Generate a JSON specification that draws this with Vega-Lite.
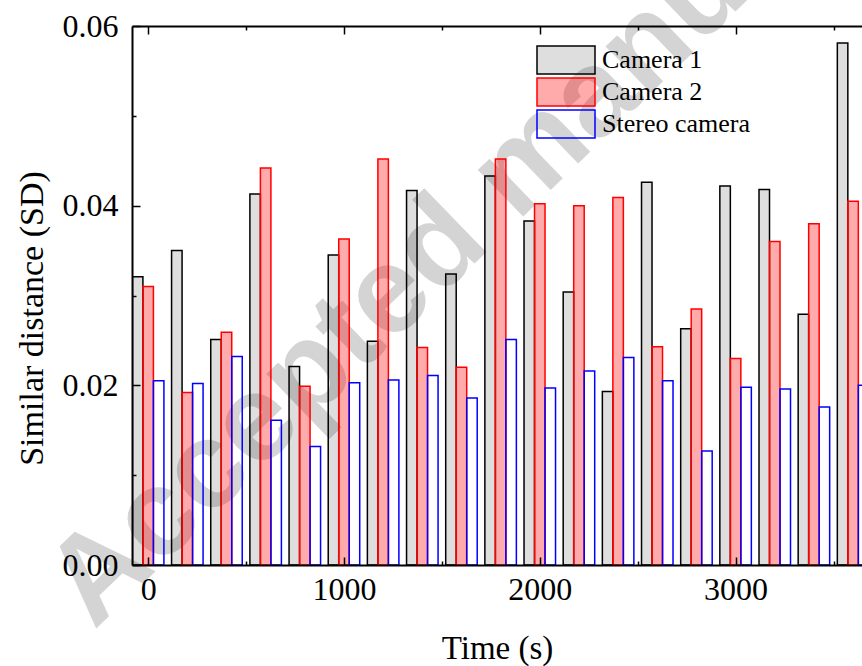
{
  "$schema": "https://vega.github.io/schema/vega-lite/v6.json",
  "width": 730,
  "height": 539,
  "autosize": {"type": "none"},
  "padding": {"left": 132, "top": 26, "right": 0, "bottom": 101},
  "background": "white",
  "config": {
    "view": {"stroke": null},
    "font": "Liberation Serif",
    "axis": {"grid": false, "tickColor": "black", "domainColor": "black", "domainWidth": 2, "tickWidth": 1.5, "labelColor": "black", "titleColor": "black", "zindex": 1}
  },
  "datasets": {
    "sd": [
      {"time": 0, "series": "Camera 1", "sd": 0.0321}, {"time": 0, "series": "Camera 2", "sd": 0.0310}, {"time": 0, "series": "Stereo camera", "sd": 0.0205},
      {"time": 200, "series": "Camera 1", "sd": 0.0350}, {"time": 200, "series": "Camera 2", "sd": 0.0192}, {"time": 200, "series": "Stereo camera", "sd": 0.0202},
      {"time": 400, "series": "Camera 1", "sd": 0.0251}, {"time": 400, "series": "Camera 2", "sd": 0.0259}, {"time": 400, "series": "Stereo camera", "sd": 0.0232},
      {"time": 600, "series": "Camera 1", "sd": 0.0413}, {"time": 600, "series": "Camera 2", "sd": 0.0442}, {"time": 600, "series": "Stereo camera", "sd": 0.0161},
      {"time": 800, "series": "Camera 1", "sd": 0.0221}, {"time": 800, "series": "Camera 2", "sd": 0.0199}, {"time": 800, "series": "Stereo camera", "sd": 0.0132},
      {"time": 1000, "series": "Camera 1", "sd": 0.0345}, {"time": 1000, "series": "Camera 2", "sd": 0.0363}, {"time": 1000, "series": "Stereo camera", "sd": 0.0203},
      {"time": 1200, "series": "Camera 1", "sd": 0.0249}, {"time": 1200, "series": "Camera 2", "sd": 0.0452}, {"time": 1200, "series": "Stereo camera", "sd": 0.0206},
      {"time": 1400, "series": "Camera 1", "sd": 0.0417}, {"time": 1400, "series": "Camera 2", "sd": 0.0242}, {"time": 1400, "series": "Stereo camera", "sd": 0.0211},
      {"time": 1600, "series": "Camera 1", "sd": 0.0324}, {"time": 1600, "series": "Camera 2", "sd": 0.0220}, {"time": 1600, "series": "Stereo camera", "sd": 0.0186},
      {"time": 1800, "series": "Camera 1", "sd": 0.0433}, {"time": 1800, "series": "Camera 2", "sd": 0.0452}, {"time": 1800, "series": "Stereo camera", "sd": 0.0251},
      {"time": 2000, "series": "Camera 1", "sd": 0.0383}, {"time": 2000, "series": "Camera 2", "sd": 0.0402}, {"time": 2000, "series": "Stereo camera", "sd": 0.0197},
      {"time": 2200, "series": "Camera 1", "sd": 0.0304}, {"time": 2200, "series": "Camera 2", "sd": 0.0400}, {"time": 2200, "series": "Stereo camera", "sd": 0.0216},
      {"time": 2400, "series": "Camera 1", "sd": 0.0193}, {"time": 2400, "series": "Camera 2", "sd": 0.0409}, {"time": 2400, "series": "Stereo camera", "sd": 0.0231},
      {"time": 2600, "series": "Camera 1", "sd": 0.0426}, {"time": 2600, "series": "Camera 2", "sd": 0.0243}, {"time": 2600, "series": "Stereo camera", "sd": 0.0205},
      {"time": 2800, "series": "Camera 1", "sd": 0.0263}, {"time": 2800, "series": "Camera 2", "sd": 0.0285}, {"time": 2800, "series": "Stereo camera", "sd": 0.0127},
      {"time": 3000, "series": "Camera 1", "sd": 0.0422}, {"time": 3000, "series": "Camera 2", "sd": 0.0230}, {"time": 3000, "series": "Stereo camera", "sd": 0.0198},
      {"time": 3200, "series": "Camera 1", "sd": 0.0418}, {"time": 3200, "series": "Camera 2", "sd": 0.0360}, {"time": 3200, "series": "Stereo camera", "sd": 0.0196},
      {"time": 3400, "series": "Camera 1", "sd": 0.0279}, {"time": 3400, "series": "Camera 2", "sd": 0.0380}, {"time": 3400, "series": "Stereo camera", "sd": 0.0176},
      {"time": 3600, "series": "Camera 1", "sd": 0.0581}, {"time": 3600, "series": "Camera 2", "sd": 0.0405}, {"time": 3600, "series": "Stereo camera", "sd": 0.0200}
    ],
    "wm": [
      {"text": "Accepted manuscript", "time": 1890, "sd": 0.044}
    ]
  },
  "layer": [
    {
      "data": {"name": "wm"},
      "mark": {"type": "text", "angle": -44, "font": "Liberation Sans", "fontWeight": "bold", "fontSize": 123, "color": "#d4d4d4", "align": "center", "baseline": "middle"},
      "encoding": {
        "text": {"field": "text"},
        "x": {"field": "time", "type": "quantitative", "scale": {"domain": [-57, 3620], "nice": false, "zero": false},
          "axis": {"orient": "bottom", "zindex": 2, "values": [0, 1000, 2000, 3000], "format": "d", "tickSize": -8, "labelFont": "Liberation Serif", "labelFontSize": 32, "labelPadding": 17, "labelFlush": false, "title": "Time (s)", "titleFont": "Liberation Serif", "titleFontSize": 33, "titleFontWeight": "normal", "titleBaseline": "middle", "titleY": 83}},
        "y": {"field": "sd", "type": "quantitative", "scale": {"domain": [0, 0.06], "nice": false, "zero": true},
          "axis": {"orient": "left", "zindex": 2, "values": [0, 0.02, 0.04, 0.06], "format": ".2f", "tickSize": -8, "labelFont": "Liberation Serif", "labelFontSize": 32, "labelPadding": 22, "labelFlush": false, "title": "Similar distance (SD)", "titleFont": "Liberation Serif", "titleFontSize": 34, "titleFontWeight": "normal", "titleBaseline": "middle", "titleX": -100, "titleY": 292}}
      }
    },
    {
      "data": {"name": "sd"},
      "transform": [{"filter": "datum.series === 'Camera 1'"}],
      "mark": {"type": "bar", "orient": "vertical", "width": 10.5, "xOffset": -10.5, "clip": true, "strokeWidth": 1.5},
      "encoding": {
        "x": {"field": "time", "type": "quantitative",
          "axis": {"orient": "bottom", "zindex": 2, "values": [500, 1500, 2500, 3500], "tickSize": -4, "labels": false, "domain": false, "title": null}},
        "y": {"field": "sd", "type": "quantitative",
          "axis": {"orient": "left", "zindex": 2, "values": [0.01, 0.03, 0.05], "tickSize": -4, "labels": false, "domain": false, "title": null}},
        "fill": {"field": "series", "type": "nominal", "scale": {"domain": ["Camera 1", "Camera 2", "Stereo camera"], "range": ["rgba(0,0,0,0.13)", "rgba(255,0,0,0.33)", "rgba(255,255,255,0)"]},
          "legend": {"title": null, "orient": "none", "legendX": 404, "legendY": 18, "padding": 0, "zindex": 2, "symbolType": "M-1,-0.48H1V0.48H-1Z", "symbolSize": 3364, "symbolStrokeWidth": 1.5, "clipHeight": 32, "rowPadding": 0, "labelFont": "Liberation Serif", "labelFontSize": 26, "labelColor": "black", "labelOffset": 6, "labelLimit": 300}},
        "stroke": {"field": "series", "type": "nominal", "scale": {"domain": ["Camera 1", "Camera 2", "Stereo camera"], "range": ["#000000", "#ff0000", "#0000ff"]},
          "legend": {"title": null, "orient": "none", "legendX": 404, "legendY": 18, "padding": 0, "zindex": 2, "symbolType": "M-1,-0.48H1V0.48H-1Z", "symbolSize": 3364, "symbolStrokeWidth": 1.5, "clipHeight": 32, "rowPadding": 0, "labelFont": "Liberation Serif", "labelFontSize": 26, "labelColor": "black", "labelOffset": 6, "labelLimit": 300}}
      }
    },
    {
      "data": {"name": "sd"},
      "transform": [{"filter": "datum.series === 'Camera 2'"}],
      "mark": {"type": "bar", "orient": "vertical", "width": 10.5, "xOffset": 0, "clip": true, "strokeWidth": 1.5},
      "encoding": {
        "x": {"field": "time", "type": "quantitative",
          "axis": {"orient": "top", "zindex": 2, "values": [0, 1000, 2000, 3000], "tickSize": -8, "labels": false, "domain": true, "title": null}},
        "y": {"field": "sd", "type": "quantitative", "axis": null},
        "fill": {"field": "series", "type": "nominal"},
        "stroke": {"field": "series", "type": "nominal"}
      }
    },
    {
      "data": {"name": "sd"},
      "transform": [{"filter": "datum.series === 'Stereo camera'"}],
      "mark": {"type": "bar", "orient": "vertical", "width": 10.5, "xOffset": 10.5, "clip": true, "strokeWidth": 1.5},
      "encoding": {
        "x": {"field": "time", "type": "quantitative",
          "axis": {"orient": "top", "zindex": 2, "values": [500, 1500, 2500, 3500], "tickSize": -4, "labels": false, "domain": false, "title": null}},
        "y": {"field": "sd", "type": "quantitative", "axis": null},
        "fill": {"field": "series", "type": "nominal"},
        "stroke": {"field": "series", "type": "nominal"}
      }
    }
  ],
  "resolve": {"axis": {"x": "independent", "y": "independent"}}
}
